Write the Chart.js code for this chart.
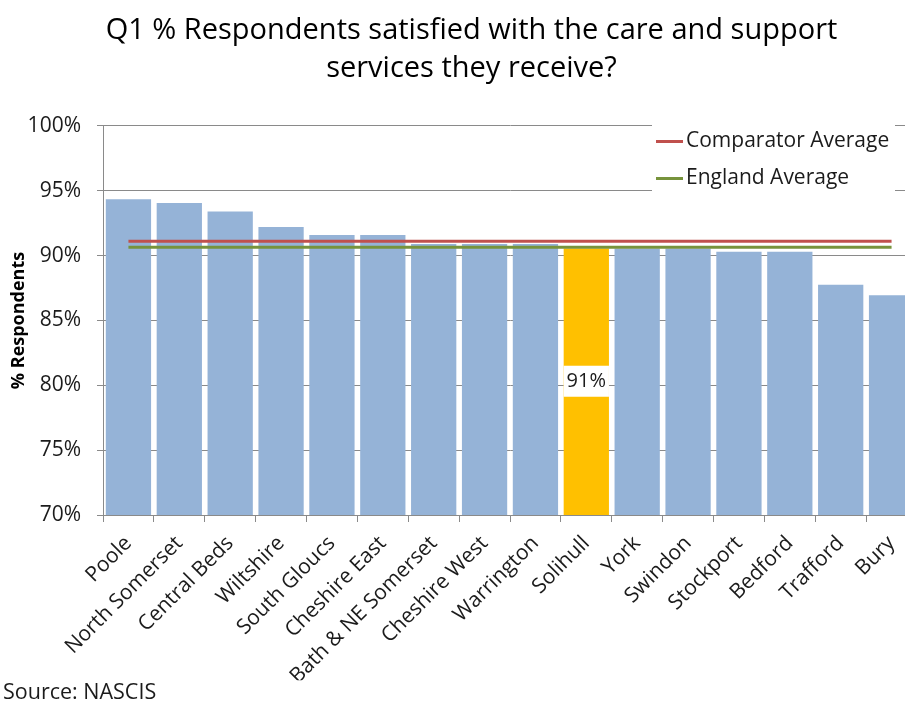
<!DOCTYPE html>
<html>
<head>
<meta charset="utf-8">
<script src="https://cdn.jsdelivr.net/npm/chart.js@4.4.1/dist/chart.umd.min.js"></script>
<style>
  html, body { margin: 0; padding: 0; overflow: hidden; background: #fff; }
  #wrap { width: 940px; height: 706px; position: relative; }
</style>
</head>
<body>
<div id="wrap"><canvas id="c" width="940" height="706"></canvas></div>
<script>
// Councils in ranked order and their % of respondents satisfied
const councils = ['Poole', 'North Somerset', 'Central Beds', 'Wiltshire', 'South Gloucs',
  'Cheshire East', 'Bath & NE Somerset', 'Cheshire West', 'Warrington', 'Solihull',
  'York', 'Swindon', 'Stockport', 'Bedford', 'Trafford', 'Bury'];
const satisfied = [94.35, 94.05, 93.4, 92.2, 91.6, 91.6, 90.9, 90.9, 90.9, 90.55,
  90.55, 90.55, 90.3, 90.3, 87.75, 86.95];
const highlightCouncil = 'Solihull';
const comparatorAverage = 91.1;
const englandAverage = 90.65;
const yTickValues = [70, 75, 80, 85, 90, 95, 100];

const FONT = '"Open Sans", Lato, "Liberation Sans", sans-serif';
const TEXT = '#1b1b1b';
const GRID = '#8a8a8a';
const BAR = '#95B3D7';
const HIGHLIGHT = '#FFC000';
const RED = '#C0504D';
const GREEN = '#77933C';

// Value label in a white box on the highlighted bar
const highlightLabel = {
  id: 'highlightLabel',
  afterDatasetsDraw(chart) {
    const idx = councils.indexOf(highlightCouncil);
    const xs = chart.scales.x, ys = chart.scales.y;
    const meta = chart.getDatasetMeta(2);
    const el = meta.data[idx];
    const w = el && isFinite(el.width) ? el.width : xs.width / councils.length * 0.89;
    const cx = xs.getPixelForValue(idx);
    const top = ys.getPixelForValue(satisfied[idx]);
    const bottom = ys.getPixelForValue(ys.min);
    const cy = (top + bottom) / 2;
    const ctx = chart.ctx;
    ctx.save();
    ctx.fillStyle = '#ffffff';
    ctx.fillRect(cx - w / 2, cy - 16, w, 31);
    ctx.fillStyle = TEXT;
    ctx.font = '20px ' + FONT;
    ctx.textAlign = 'center';
    ctx.textBaseline = 'middle';
    ctx.fillText(Math.round(satisfied[idx]) + '%', cx, cy);
    ctx.restore();
  }
};

// Legend box placed in the top-right corner of the plot
const insetLegend = {
  id: 'insetLegend',
  afterDraw(chart) {
    const ctx = chart.ctx;
    const items = chart.data.datasets.filter(d => d.type === 'line');
    const x0 = 652, y0 = 116, w = 243, h = 82;
    ctx.save();
    ctx.fillStyle = '#fff';
    ctx.fillRect(x0, y0, w, h);
    ctx.font = '21px ' + FONT;
    ctx.textBaseline = 'middle';
    ctx.textAlign = 'left';
    items.forEach((d, i) => {
      const y = 141.5 + i * 37;
      ctx.strokeStyle = d.borderColor;
      ctx.lineWidth = 3;
      ctx.beginPath();
      ctx.moveTo(656, y);
      ctx.lineTo(683, y);
      ctx.stroke();
      ctx.fillStyle = TEXT;
      ctx.fillText(d.label, 686, y);
    });
    ctx.restore();
  }
};

new Chart(document.getElementById('c'), {
  data: {
    labels: councils,
    datasets: [
      {
        type: 'line',
        label: 'Comparator Average',
        data: councils.map(() => comparatorAverage),
        borderColor: RED,
        borderWidth: 3,
        pointRadius: 0,
        order: 0
      },
      {
        type: 'line',
        label: 'England Average',
        data: councils.map(() => englandAverage),
        borderColor: GREEN,
        borderWidth: 3,
        pointRadius: 0,
        order: 1
      },
      {
        type: 'bar',
        label: '% Respondents',
        data: satisfied,
        backgroundColor: councils.map(c => c === highlightCouncil ? HIGHLIGHT : BAR),
        categoryPercentage: 1,
        barPercentage: 0.89,
        order: 2
      }
    ]
  },
  options: {
    responsive: false,
    animation: false,
    devicePixelRatio: 1,
    layout: { padding: { left: 3, right: 0, top: 0, bottom: 0 } },
    plugins: {
      legend: { display: false },
      tooltip: { enabled: false },
      title: {
        display: true,
        text: ['Q1 % Respondents satisfied with the care and support', 'services they receive?'],
        color: '#000',
        font: { family: FONT, size: 29, weight: 'normal', lineHeight: 1.33 },
        padding: { top: 11, bottom: 37.8 }
      },
      subtitle: {
        display: true,
        position: 'bottom',
        align: 'start',
        text: 'Source: NASCIS',
        color: TEXT,
        font: { family: FONT, size: 21.5, weight: 'normal', lineHeight: 1.2 },
        padding: { top: 0, bottom: 0 }
      }
    },
    scales: {
      x: {
        type: 'category',
        offset: true,
        grid: { display: true, drawOnChartArea: false, drawTicks: true, tickLength: 7, color: GRID, offset: true },
        border: { display: true, color: GRID, width: 1 },
        ticks: {
          autoSkip: false, minRotation: 45, maxRotation: 45, padding: 9,
          color: TEXT, font: { family: FONT, size: 21 }
        },
        afterFit(scale) { scale.height = 165.2; }
      },
      y: {
        min: 70, max: 100,
        afterBuildTicks(scale) { scale.ticks = yTickValues.map(v => ({ value: v })); },
        grid: { color: GRID, tickLength: 6, drawTicks: true },
        border: { display: true, color: GRID, width: 1 },
        ticks: {
          padding: 16, color: TEXT, font: { family: FONT, size: 21 },
          callback: v => v + '%'
        },
        title: {
          display: true, text: '% Respondents', color: '#000',
          font: { family: FONT, size: 18, weight: 'bold' },
          padding: { top: 5, bottom: 4 }
        },
        afterFit(scale) { scale.width = 100; }
      },
      // empty right-hand axis reserving the strip past the last category
      yRight: {
        position: 'right',
        min: 70, max: 100,
        grid: { display: false, drawTicks: false },
        border: { display: false },
        ticks: { display: false },
        afterFit(scale) { scale.width = 23; }
      }
    }
  },
  plugins: [highlightLabel, insetLegend]
});
</script>
</body>
</html>
